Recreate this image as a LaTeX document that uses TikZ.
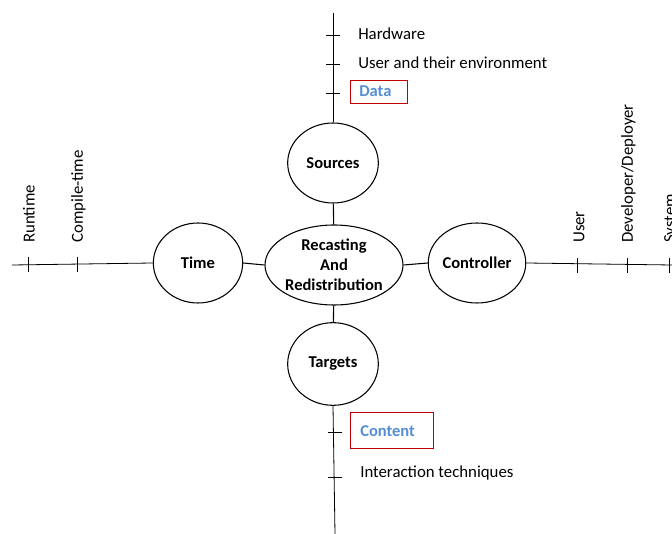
\documentclass[tikz,border=0pt]{standalone}
\usepackage{fontspec}
\setmainfont{Carlito}
\usetikzlibrary{shapes.geometric}
\definecolor{tblue}{HTML}{558ED5}
\definecolor{tred}{HTML}{C00000}
\begin{document}
\begin{tikzpicture}[x=0.75pt,y=-0.75pt,
  every node/.style={font=\fontsize{12.6}{15}\selectfont},
  bub/.style={draw,thick,ellipse,inner sep=0pt,font=\fontsize{12.4}{15}\selectfont\bfseries},
  conn/.style={thick},
  axis/.style={line width=0.6pt},
  tick/.style={line width=0.6pt},
  lab/.style={anchor=west,inner sep=0pt},
  vlab/.style={anchor=west,rotate=90,inner sep=0pt},
  redbox/.style={draw=tred,line width=1pt,anchor=north west,inner sep=0pt},
  bluelab/.style={anchor=west,inner sep=0pt,text=tblue,font=\fontsize{12.4}{15}\selectfont\bfseries}]
\useasboundingbox (0,0) rectangle (672,534);
% nodes
\node[bub,minimum width=99pt,minimum height=60pt,align=center] (c) at (334,265) {Recasting\\And\\Redistribution};
\node[bub,minimum width=68pt,minimum height=60pt] (s) at (333,163) {Sources};
\node[bub,minimum width=68pt,minimum height=62pt] (t) at (333,364) {Targets};
\node[bub,minimum width=67pt,minimum height=60pt] (tm) at (198,263) {Time};
\node[bub,minimum width=69pt,minimum height=60pt] (ct) at (477,263) {Controller};
% connectors
\draw[conn] (s) -- (c);
\draw[conn] (c) -- (t);
\draw[conn] (tm.east) -- (c.west);
\draw[conn] (c.east) -- (ct.west);
% axis coordinates
\coordinate (topend) at (333,13);
\coordinate (botend) at (335,534);
\coordinate (leftend) at (12,265);
\coordinate (rightend) at (672,265);
\draw[axis] (topend) -- (s.north);
\draw[axis] (t.south) -- (botend);
\draw[axis] (leftend) -- (tm.west);
\draw[axis] (ct.east) -- (rightend);
% ticks top
\foreach \yy in {35,64,93} \draw[tick] (326,\yy) -- (340,\yy);
% ticks bottom
\foreach \yy in {432,477} \draw[tick] (328,\yy) -- (342,\yy);
% ticks left
\foreach \xx in {28,77} \draw[tick] (\xx,257) -- (\xx,272);
% ticks right
\foreach \xx in {577,627,669} \draw[tick] (\xx,258) -- (\xx,273);
% labels
\node[lab] (hw) at (358,34) {Hardware};
\node[lab] (ue) at (358,63) {User and their environment};
\node[redbox,minimum width=42.75pt,minimum height=17.25pt] (databox) at (350,80) {};
\node[bluelab] (data) at (359,91.5) {Data};
\node[redbox,minimum width=62.25pt,minimum height=27pt] (contbox) at (350,412) {};
\node[bluelab] (cont) at (360,431) {Content};
\node[lab] (it) at (360,473) {Interaction techniques};
\node[vlab] (rt) at (29,243) {Runtime};
\node[vlab] (cpt) at (78.5,243) {Compile-time};
\node[vlab] (us) at (579,243) {User};
\node[vlab] (dd) at (628.5,243) {Developer/Deployer};
\node[vlab] (sy) at (671,243) {System};
\end{tikzpicture}
\end{document}
